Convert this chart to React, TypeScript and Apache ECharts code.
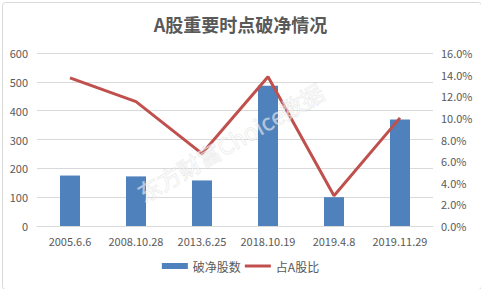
import React, { useEffect, useRef } from "react";
import * as echarts from "echarts";

const categories = ["2005.6.6", "2008.10.28", "2013.6.25", "2018.10.19", "2019.4.8", "2019.11.29"];
const brokenCounts = [175, 172, 158, 486, 100, 369];
const shareOfA = [13.7, 11.5, 6.7, 13.8, 2.8, 10.0];

export default function App() {
  const ref = useRef<HTMLDivElement>(null);
  useEffect(() => {
    document.body.style.margin = "0";
    const chart = echarts.init(ref.current!, null, { renderer: "svg" });
    const font = "'Microsoft YaHei', 'Noto Sans CJK SC', sans-serif";
    chart.setOption({
      animation: false,
      backgroundColor: "#ffffff",
      title: {
        text: "A股重要时点破净情况",
        left: "center",
        top: 10,
        textStyle: { fontSize: 18, fontWeight: "bold", color: "#595959", fontFamily: font },
      },
      grid: { left: 37, right: 48, top: 53, bottom: 63 },
      legend: {
        bottom: 12,
        left: "center",
        itemGap: 4,
        itemWidth: 26,
        itemHeight: 6,
        textStyle: { fontSize: 12, color: "#595959", fontFamily: font },
        data: [
          { name: "破净股数", icon: "rect" },
          { name: "占A股比", icon: "path://M0,0H26V3H0Z" },
        ],
      },
      xAxis: {
        type: "category",
        data: categories,
        axisTick: { show: false },
        axisLine: { lineStyle: { color: "#d9d9d9" } },
        axisLabel: { color: "#595959", fontSize: 11, margin: 9, fontFamily: font, interval: 0 },
      },
      yAxis: [
        {
          type: "value",
          min: 0,
          max: 600,
          interval: 100,
          axisLine: { show: false },
          axisTick: { show: false },
          splitLine: { lineStyle: { color: "#d9d9d9" } },
          axisLabel: { color: "#595959", fontSize: 11, margin: 9, fontFamily: font },
        },
        {
          type: "value",
          min: 0,
          max: 16,
          interval: 2,
          axisLine: { show: false },
          axisTick: { show: false },
          splitLine: { show: false },
          axisLabel: {
            color: "#595959",
            fontSize: 11,
            margin: 8,
            fontFamily: font,
            formatter: (v: number) => `${v.toFixed(1)}%`,
          },
        },
      ],
      series: [
        {
          name: "破净股数",
          type: "bar",
          data: brokenCounts,
          barWidth: 20,
          itemStyle: { color: "#4f81bd" },
        },
        {
          name: "占A股比",
          type: "line",
          yAxisIndex: 1,
          data: shareOfA,
          symbol: "none",
          lineStyle: { color: "#c0504d", width: 3 },
          itemStyle: { color: "#c0504d" },
        },
      ],
      graphic: [
        {
          type: "rect",
          left: 0,
          top: 0,
          shape: { x: 0.5, y: 0.5, width: 479, height: 287, r: 3 },
          style: { fill: "none", stroke: "#d9d9d9", lineWidth: 1 },
          silent: true,
        },
        {
          type: "text",
          x: 230,
          y: 142,
          rotation: (30 * Math.PI) / 180,
          style: {
            text: "东方财富Choice数据",
            fontSize: 23,
            fontFamily: font,
            fill: "rgba(255,255,255,0.55)",
            stroke: "rgba(180,180,180,0.3)",
            lineWidth: 1,
            align: "center",
            verticalAlign: "middle",
          },
          z: 100,
          silent: true,
        },
      ],
    });
    return () => chart.dispose();
  }, []);
  return <div ref={ref} style={{ width: 481, height: 289 }} />;
}
